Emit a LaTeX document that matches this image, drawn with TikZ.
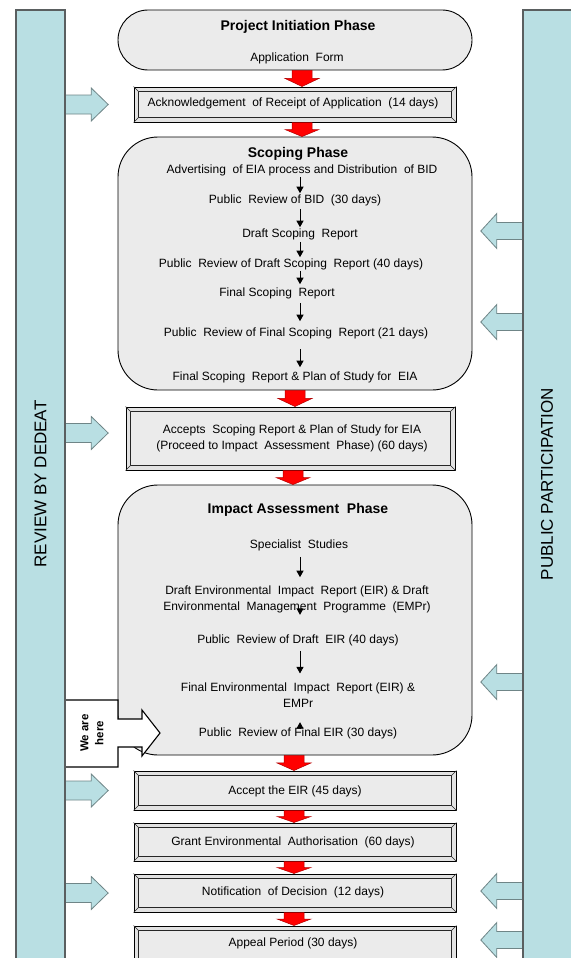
\documentclass[tikz,border=0pt]{standalone}
\usepackage{fontspec}
\setmainfont{Liberation Sans}
\usetikzlibrary{arrows.meta,calc}
\definecolor{bluebar}{HTML}{B9DFE3}
\definecolor{bardraw}{HTML}{5A5F60}
\definecolor{bluearrdraw}{HTML}{6F8587}
\definecolor{boxgray}{HTML}{EBEBEB}
\definecolor{bevelgray}{HTML}{E2E2E2}
\definecolor{redline}{HTML}{B00000}

\newcommand\redblock[3]{%
  \path[redarr] let \p1=(#2.south), \p2=(#3.north), \p3=($(#2.south)!0.5!(#3.north)$) in
    ({#1pt-10pt},\y1) -- ({#1pt+10pt},\y1) -- ({#1pt+10pt},\y3) -- ({#1pt+17pt},\y3)
    -- ({#1pt},\y2) -- ({#1pt-17pt},\y3) -- ({#1pt-10pt},\y3) -- cycle;}
\newcommand\bluer[1]{%
  \path[bluearr] let \p1=(lbar.east |- #1) in
    (\x1-1pt,\y1+9.5pt) -- (\x1+26pt,\y1+9.5pt) -- (\x1+26pt,\y1+16.5pt) -- (\x1+43pt,\y1)
    -- (\x1+26pt,\y1-16.5pt) -- (\x1+26pt,\y1-9.5pt) -- (\x1-1pt,\y1-9.5pt) -- cycle;}
\newcommand\bluel[1]{%
  \path[bluearr] let \p1=(rbar.west |- #1) in
    (\x1+1pt,\y1+8.5pt) -- (\x1-26pt,\y1+8.5pt) -- (\x1-26pt,\y1+17.5pt) -- (\x1-42pt,\y1)
    -- (\x1-26pt,\y1-17.5pt) -- (\x1-26pt,\y1-8.5pt) -- (\x1+1pt,\y1-8.5pt) -- cycle;}
\newcommand\bevel[1]{%
  \draw[innerline] ($(#1.north west)+(5,5)$) rectangle ($(#1.south east)+(-5,-5)$);
  \draw[innerline] (#1.north west) -- ++(5,5) (#1.north east) -- ++(-5,5)
    (#1.south west) -- ++(5,-5) (#1.south east) -- ++(-5,-5);}

\begin{document}
\begin{tikzpicture}[x=1pt,y=-1pt,
  bar/.style={draw=bardraw, fill=bluebar, line width=1.2pt},
  phase/.style={draw=black, fill=boxgray, line width=0.9pt, inner sep=0pt},
  outerbox/.style={draw=black, fill=bevelgray, line width=1pt, inner sep=0pt,
    font=\fontsize{12}{15}\selectfont, align=center},
  innerline/.style={draw=black!85, fill=boxgray, line width=0.5pt},
  txt/.style={font=\fontsize{12}{16}\selectfont, inner sep=1pt, align=center},
  ttl/.style={font=\bfseries\fontsize{14}{16}\selectfont, inner sep=1pt},
  bartxt/.style={font=\fontsize{17}{19}\selectfont, rotate=90},
  smallarr/.style={-{Triangle[length=6.5pt,width=7pt]}, line width=0.9pt},
  redarr/.style={draw=redline, fill=red, line width=0.5pt},
  bluearr/.style={draw=bluearrdraw, fill=bluebar, line width=0.8pt},
  herebox/.style={draw=black, fill=white, line width=1.1pt}
]
\useasboundingbox (0,0) rectangle (570,958);

% side bars (nodes for reference)
\path (40.5,484) node[minimum width=49pt, minimum height=948pt, inner sep=0] (lbar) {};
\path (547,484) node[minimum width=48pt, minimum height=948pt, inner sep=0] (rbar) {};

% phase boxes
\node[phase, rounded corners=30pt, minimum width=354pt, minimum height=60pt] (pi) at (295,40) {};
\node[phase, rounded corners=40pt, minimum width=354pt, minimum height=253pt] (sc) at (295,263.5) {};
\node[phase, rounded corners=40pt, minimum width=354pt, minimum height=270pt] (ia) at (295,620) {};

% bevel boxes
\node[outerbox, minimum width=322pt, minimum height=35pt] (ack) at (295,104.5) {};
\bevel{ack}
\node[txt] at (293,103.5) {Acknowledgement\ \ of Receipt of Application\ \ (14 days)};
\node[outerbox, minimum width=329pt, minimum height=63pt] (acc) at (290.5,438.5) {};
\bevel{acc}
\node[txt] at (292,438.5) {Accepts\ \ Scoping Report \& Plan of Study for EIA\\(Proceed to Impact\ \ Assessment\ \ Phase) (60 days)};
\node[outerbox, minimum width=322pt, minimum height=39pt] (eir) at (295,790.5) {};
\bevel{eir}
\node[txt] at (295,791) {Accept the EIR (45 days)};
\node[outerbox, minimum width=322pt, minimum height=38pt] (grant) at (295,842) {};
\bevel{grant}
\node[txt] at (293,842) {Grant Environmental\ \ Authorisation\ \ (60 days)};
\node[outerbox, minimum width=322pt, minimum height=38pt] (notif) at (295,893) {};
\bevel{notif}
\node[txt] at (293,892) {Notification\ \ of Decision\ \ (12 days)};
\node[outerbox, minimum width=322pt, minimum height=40pt] (appeal) at (295,946) {};
\bevel{appeal}
\node[txt] at (293,943) {Appeal Period (30 days)};

% project initiation texts
\node[ttl] at (298,27) {Project Initiation Phase};
\node[txt] at (297,58) {Application\ \ Form};

% scoping texts
\coordinate (ax) at (300,0);
\node[ttl] at (298,154) {Scoping Phase};
\node[txt] (s1) at (302,170) {Advertising\ \ of EIA process and Distribution\ \ of BID};
\node[txt] (s2) at (295,200) {Public\ \ Review of BID\ \ (30 days)};
\node[txt] (s3) at (300,234) {Draft Scoping\ \ Report};
\node[txt] (s4) at (291,264) {Public\ \ Review of Draft Scoping\ \ Report (40 days)};
\node[txt] (s5) at (277,293) {Final Scoping\ \ Report};
\node[txt] (s6) at (296,333) {Public\ \ Review of Final Scoping\ \ Report (21 days)};
\node[txt] (s7) at (295,377) {Final Scoping\ \ Report \& Plan of Study for\ \ EIA};
\draw[smallarr] (ax |- s1.south) -- (ax |- s2.north);
\draw[smallarr, shorten <=2pt] (ax |- s2.south) -- (ax |- s3.north);
\draw[smallarr, shorten <=1pt] (ax |- s3.south) -- (ax |- s4.north);
\draw[smallarr] (ax |- s4.south) -- ($(ax |- s5.north)+(0,-2)$);
\draw[smallarr, shorten <=3pt, shorten >=5pt] (ax |- s5.south) -- (ax |- s6.north);
\draw[smallarr, shorten <=9pt, shorten >=3pt] (ax |- s6.south) -- (ax |- s7.north);

% impact assessment texts
\node[ttl] at (298,510) {Impact Assessment\ \ Phase};
\node[txt] (i1) at (299,545) {Specialist\ \ Studies};
\node[txt] (i2) at (297,599) {Draft Environmental\ \ Impact\ \ Report (EIR) \& Draft\\Environmental\ \ Management\ \ Programme\ \ (EMPr)};
\node[txt] (i3) at (298,640) {Public\ \ Review of Draft\ \ EIR (40 days)};
\node[txt] (i4) at (298,695) {Final Environmental\ \ Impact\ \ Report (EIR) \&\\EMPr};
\node[txt] (i5) at (298,733) {Public\ \ Review of Final EIR (30 days)};
\draw[smallarr, shorten <=5pt, shorten >=7pt] (ax |- i1.south) -- (ax |- i2.north);
\draw[smallarr] ($(ax |- i2.south)+(0,-5)$) -- ($(ax |- i2.south)+(0,1)$);
\draw[smallarr, shorten <=4pt, shorten >=8pt] (ax |- i3.south) -- (ax |- i4.north);
\draw[smallarr] ($(ax |- i5.north)+(0,2)$) -- ($(ax |- i5.north)+(0,-4)$);

% "We are here" callout
\draw[herebox] (65,700) -- (118,700) -- (118,719) -- (142,719) -- (142,710) -- (160,733)
  -- (142,756) -- (142,747) -- (118,747) -- (118,767) -- (65,767) -- cycle;
\node[font=\bfseries\fontsize{11.5}{15}\selectfont, rotate=90, align=center] (here) at (92,733) {We are\\here};

% red block arrows
\redblock{302}{pi}{ack}
\redblock{302}{ack}{sc}
\redblock{295}{sc}{acc}
\redblock{293}{acc}{ia}
\redblock{294}{ia}{eir}
\redblock{294}{eir}{grant}
\redblock{294}{grant}{notif}
\redblock{294}{notif}{appeal}

% blue arrows from left bar
\coordinate (la2) at (0,433);
\bluer{ack}
\bluer{la2}
\bluer{eir}
\bluer{notif}

% blue arrows from right bar
\coordinate (ra1) at (0,231);
\coordinate (ra2) at (0,322);
\coordinate (ra3) at (0,682);
\coordinate (ra4) at (0,891);
\coordinate (ra5) at (0,940);
\bluel{ra1}
\bluel{ra2}
\bluel{ra3}
\bluel{ra4}
\bluel{ra5}

% bars drawn over arrow roots
\fill[bluebar] (16.6,10.6) rectangle (64.4,965);
\draw[bar] (16,965) -- (16,10) -- (65,10) -- (65,965);
\fill[bluebar] (523.6,10.6) rectangle (575,965);
\draw[bar] (575,10) -- (523,10) -- (523,965);
\node[bartxt] at (lbar) {REVIEW BY DEDEAT};
\node[bartxt] at (rbar) {PUBLIC PARTICIPATION};
\end{tikzpicture}
\end{document}
